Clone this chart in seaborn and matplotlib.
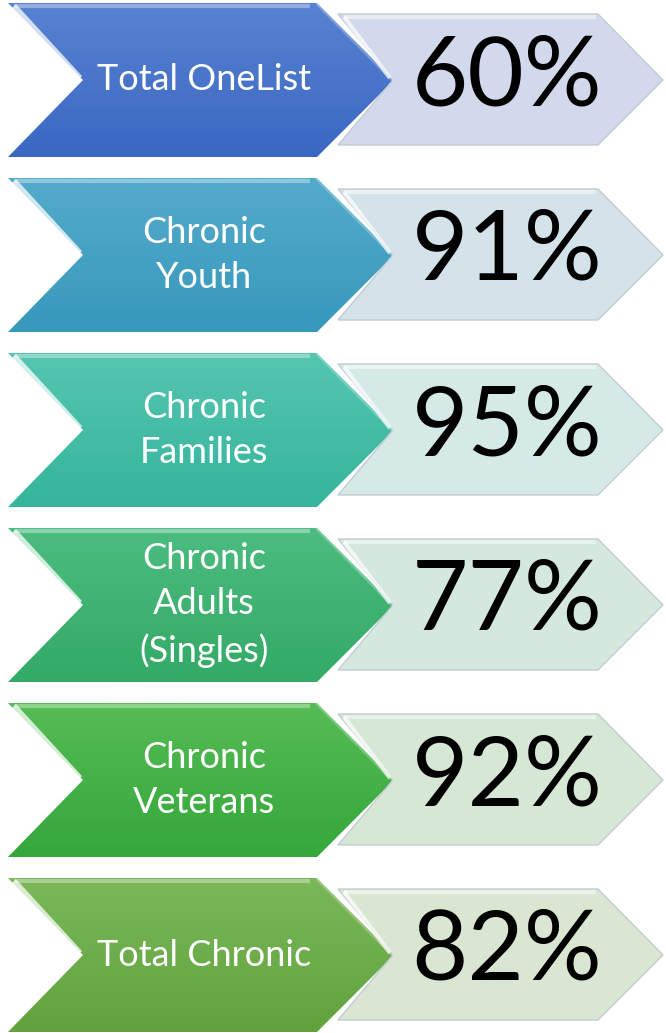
import numpy as np
import matplotlib
matplotlib.use("Agg")
import matplotlib.pyplot as plt
from matplotlib.patches import Polygon
from matplotlib.colors import to_rgb
import seaborn as sns

# ---- data ----
categories = ["Total OneList", "Chronic\nYouth", "Chronic\nFamilies",
              "Chronic\nAdults\n(Singles)", "Chronic\nVeterans", "Total Chronic"]
percent_values = [60, 91, 95, 77, 92, 82]
left_top_colors = ["#5883d2", "#54abcb", "#55c5b0", "#4cbc80", "#55bc55", "#7ab858"]
left_bottom_colors = ["#3a67c2", "#3798bc", "#35b59c", "#33aa66", "#35a73a", "#61a23d"]
right_colors = ["#d3d9ec", "#d4e2ea", "#d5e9e7", "#d4e8dd", "#d6e7d6", "#d9e6d2"]

sns.set_theme(style="white")
plt.rcParams['font.family'] = ['Lato', 'DejaVu Sans']

W, H = 666, 1033
fig = plt.figure(figsize=(W / 100, H / 100), dpi=100)
ax = fig.add_axes([0, 0, 1, 1])
ax.set_xlim(0, W)
ax.set_ylim(H, 0)
ax.set_axis_off()

pitch = 175
for i, (cat, val) in enumerate(zip(categories, percent_values)):
    y0 = 3 + i * pitch
    mid = y0 + 77
    # left chevron
    lpts = [(8, y0), (317, y0), (394, mid), (317, y0 + 154), (8, y0 + 154), (83, mid)]
    lpoly = Polygon(lpts, closed=True, facecolor="none", edgecolor="none")
    ax.add_patch(lpoly)
    c1 = np.array(to_rgb(left_top_colors[i]))
    c2 = np.array(to_rgb(left_bottom_colors[i]))
    t = np.linspace(0, 1, 100)[:, None, None]
    grad = c1 * (1 - t) + c2 * t
    grad = np.repeat(grad, 2, axis=1)
    im = ax.imshow(grad, extent=(8, 394, y0 + 154, y0), aspect="auto",
                   origin="upper", interpolation="bilinear", zorder=1)
    im.set_clip_path(lpoly)
    # bevel highlights
    ax.plot([14, 310], [y0 + 3, y0 + 3], color="white", alpha=0.35, lw=3, zorder=2,
            solid_capstyle="butt")
    ax.plot([14, 80], [y0 + 3, mid - 2], color="white", alpha=0.75, lw=4, zorder=2,
            solid_capstyle="butt")
    ax.plot([317, 392], [y0 + 1, mid], color="white", alpha=0.25, lw=2, zorder=2)
    # right chevron
    yt, yb = y0 + 11, y0 + 142
    rpts = [(338, yt), (598, yt), (663, mid), (598, yb), (338, yb), (393, mid)]
    rpoly = Polygon(rpts, closed=True, facecolor=right_colors[i],
                    edgecolor="#c3cbd3", lw=1.0, zorder=1)
    ax.add_patch(rpoly)
    ax.plot([344, 596], [yt + 3, yt + 3], color="white", alpha=0.5, lw=3, zorder=2,
            solid_capstyle="butt")
    ax.plot([344, 390], [yt + 3, mid - 2], color="white", alpha=0.7, lw=3, zorder=2,
            solid_capstyle="butt")
    # texts
    ax.text(204, mid, cat, color="white", fontsize=26, ha="center", va="center",
            linespacing=1.45, zorder=3)
    ax.text(507, mid - 2, f"{val}%", color="black", fontsize=70, ha="center",
            va="center", zorder=3)

fig.savefig("out.png", dpi=100, facecolor="white")
